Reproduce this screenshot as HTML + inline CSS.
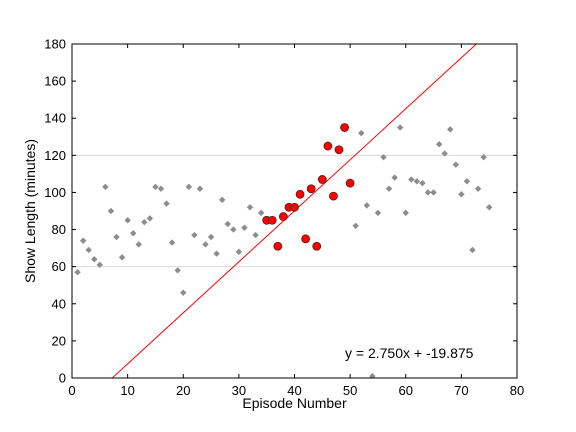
<!DOCTYPE html>
<html><head><meta charset="utf-8"><style>body{margin:0;background:#fff}svg{display:block;font-family:"Liberation Sans","DejaVu Sans",sans-serif}</style></head>
<body>
<svg id="chart" width="576" height="432" viewBox="0 0 576 432"></svg>
<script>
const grayEpisodes=[1,2,3,4,5,6,7,8,9,10,11,12,13,14,15,16,17,18,19,20,21,22,23,24,25,26,27,28,29,30,31,32,33,34,51,52,53,54,55,56,57,58,59,60,61,62,63,64,65,66,67,68,69,70,71,72,73,74,75];
const grayLengths=[57,74,69,64,61,103,90,76,65,85,78,72,84,86,103,102,94,73,58,46,103,77,102,72,76,67,96,83,80,68,81,92,77,89,82,132,93,1,89,119,102,108,135,89,107,106,105,100,100,126,121,134,115,99,106,69,102,119,92];
const redEpisodes=[35,36,37,38,39,40,41,42,43,44,45,46,47,48,49,50];
const redLengths=[85,85,71,87,92,92,99,75,102,71,107,125,98,123,135,105];
const fitSlope=2.75, fitIntercept=-19.875;
const xTicks=[0,10,20,30,40,50,60,70,80];
const yTicks=[0,20,40,60,80,100,120,140,160,180];
const gridLines=[60,120];

const L=72,R=517,T=44,B=378;
const X=v=>L+(v-0)/80*(R-L);
const Y=v=>B-(v-0)/180*(B-T);
const svg=document.getElementById('chart');
const NS='http://www.w3.org/2000/svg';
function mk(tag,attrs,parent){const e=document.createElementNS(NS,tag);for(const k in attrs)e.setAttribute(k,attrs[k]);(parent||svg).appendChild(e);return e;}

const grid=mk('g',{});


gridLines.forEach(g=>{const l=mk('line',{x1:L,x2:R,y1:Y(g),y2:Y(g),stroke:'#d8d8d8','stroke-width':1},grid);

});

// clip
const defs=mk('defs',{});const cp=mk('clipPath',{id:'pc'},defs);mk('rect',{x:L,y:T,width:R-L,height:B-T},cp);

const gg=mk('g',{'clip-path':'url(#pc)'});


grayEpisodes.forEach((e,i)=>{const x=X(e),y=Y(grayLengths[i]);
const p=mk('path',{d:`M${x-3},${y}L${x},${y-3}L${x+3},${y}L${x},${y+3}Z`,fill:'#8c8c8c',stroke:'#999','stroke-width':0.5},gg);

});

const line=mk('line',{x1:X(0),y1:Y(fitIntercept),x2:X(80),y2:Y(fitIntercept+fitSlope*80),stroke:'#ff0000','stroke-width':1,'clip-path':'url(#pc)'});



const rg=mk('g',{'clip-path':'url(#pc)'});


redEpisodes.forEach((e,i)=>{const c=mk('circle',{cx:X(e),cy:Y(redLengths[i]),r:4,fill:'#ff0000',stroke:'#5a1a1a','stroke-width':0.8},rg);

});

const frame=mk('rect',{x:L,y:T,width:R-L,height:B-T,fill:'none',stroke:'#000','stroke-width':1});



xTicks.forEach(t=>{const x=X(t);
mk('line',{x1:x,x2:x,y1:B,y2:B-4,stroke:'#000'});mk('line',{x1:x,x2:x,y1:T,y2:T+4,stroke:'#000'});
const tx=mk('text',{x:x,y:B+17,'text-anchor':'middle','font-size':13});tx.textContent=t;

});
yTicks.forEach(t=>{const y=Y(t);
mk('line',{x1:L,x2:L+4,y1:y,y2:y,stroke:'#000'});mk('line',{x1:R,x2:R-4,y1:y,y2:y,stroke:'#000'});
const tx=mk('text',{x:L-6,y:y+4.5,'text-anchor':'end','font-size':13});tx.textContent=t;

});

const xt=mk('text',{x:(L+R)/2,y:408,'text-anchor':'middle','font-size':14});xt.textContent='Episode Number';


const yt=mk('text',{x:35,y:(T+B)/2,'text-anchor':'middle','font-size':14,transform:`rotate(-90 35 ${(T+B)/2})`});yt.textContent='Show Length (minutes)';


const eq=mk('text',{x:345,y:358,'font-size':14});eq.textContent='y = 2.750x + -19.875';


</script>
</body></html>
